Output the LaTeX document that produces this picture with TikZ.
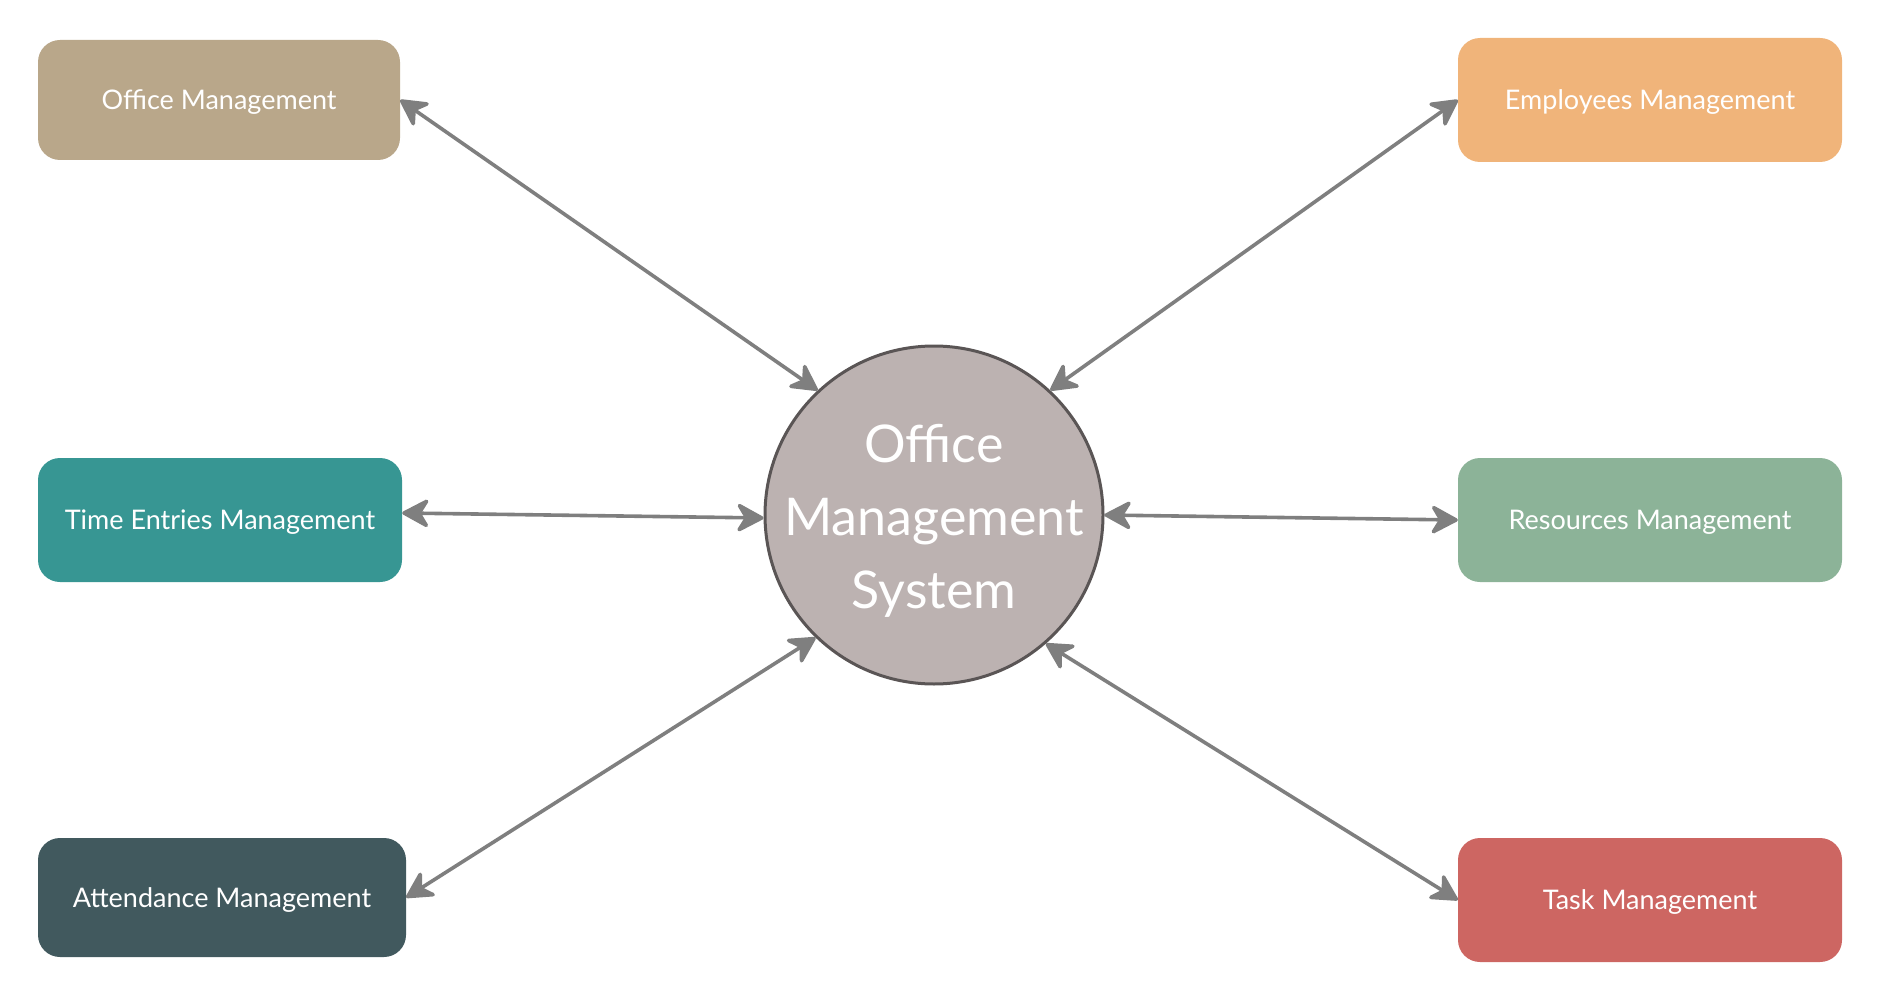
\documentclass[tikz,border=0pt]{standalone}
\usepackage{fontspec}
\setmainfont{Lato}
\usetikzlibrary{arrows.meta}
\definecolor{cOM}{HTML}{B9A78A}
\definecolor{cEM}{HTML}{F0B47A}
\definecolor{cTM}{HTML}{379693}
\definecolor{cRS}{HTML}{8CB398}
\definecolor{cAT}{HTML}{41595E}
\definecolor{cTK}{HTML}{CD6662}
\definecolor{cCF}{HTML}{BCB2B1}
\definecolor{cCB}{HTML}{5A5555}
\definecolor{cAR}{HTML}{7F7F7F}
\tikzset{
  modbox/.style={rounded corners=22pt, inner sep=0pt, text=white,
    font=\fontsize{27}{32}\selectfont, text height=19pt, text depth=0pt},
  tipshape/.tip={Stealth[length=31pt,width=33pt,inset=10pt,round]},
  arr/.style={draw=cAR, line width=3.6pt, tipshape-tipshape},
}
\begin{document}
\begin{tikzpicture}[x=1pt,y=-1pt]
\useasboundingbox (0,0) rectangle (1881,1000);
\node[modbox, fill=cOM, minimum width=362pt, minimum height=120pt] (om) at (219,100) {Office Management};
\node[modbox, fill=cEM, minimum width=384pt, minimum height=124pt] (em) at (1650,100) {Employees Management};
\node[modbox, fill=cTM, minimum width=364pt, minimum height=124pt] (tm) at (220,520) {Time Entries Management};
\node[modbox, fill=cRS, minimum width=384pt, minimum height=124pt] (rs) at (1650,520) {Resources Management};
\node[modbox, fill=cAT, minimum width=368pt, minimum height=119pt] (at) at (222,897.5) {Attendance Management};
\node[modbox, fill=cTK, minimum width=384pt, minimum height=124pt] (tk) at (1650,900) {Task Management};
\node[circle, fill=cCF, draw=cCB, line width=3pt, minimum size=338pt, inner sep=0pt] (c) at (934,515) {};
\node[text=white, align=center, inner sep=0pt, font=\fontsize{52}{73}\selectfont] (ct) at ([yshift=-6pt]c.center)
  {Office\\Management\\System};
\draw[arr] (om.east) -- (c.133);
\draw[arr] ([yshift=7pt]tm.east) -- (c.181);
\draw[arr] (em.west) -- (c.47);
\draw[arr] (rs.west) -- (c.0);
\draw[arr] (at.east) -- (c.226);
\draw[arr] (tk.west) -- (c.311);
\end{tikzpicture}
\end{document}
